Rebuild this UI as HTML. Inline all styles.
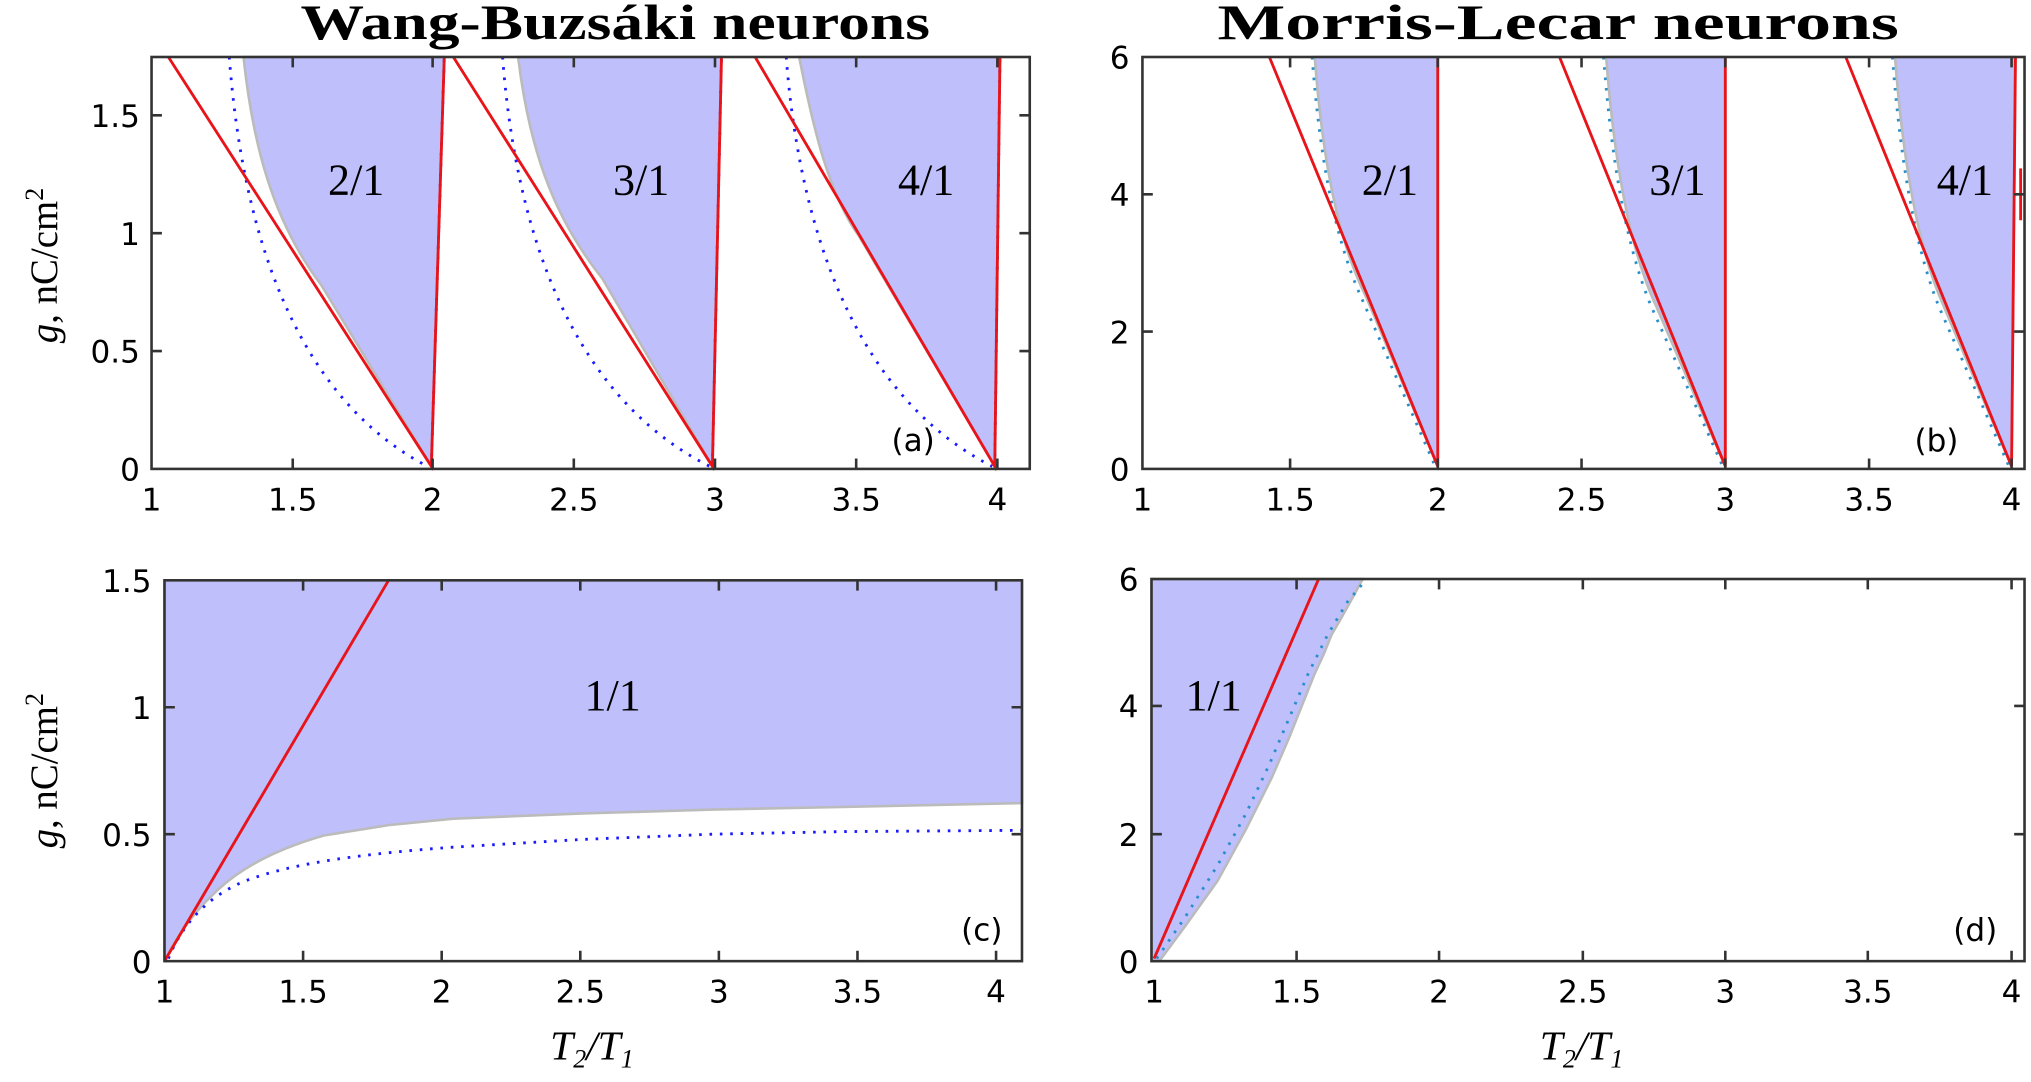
<!DOCTYPE html>
<html><head><meta charset="utf-8"><style>
html,body{margin:0;padding:0;background:#fff;}
svg{display:block;}
.t{font-family:"DejaVu Sans","Liberation Sans",sans-serif;font-size:24px;fill:#000;}
.s{font-family:"Liberation Serif",serif;font-size:34px;fill:#000;}
.ax{fill:none;stroke:#333;stroke-width:2;}
.sh{fill:#bfbffb;stroke:#bbb;stroke-width:2;}
.r{fill:none;stroke:#e8141a;stroke-width:2.2;}
.d{fill:none;stroke:#1a1aff;stroke-width:2.2;stroke-dasharray:2 6;}
.dt{fill:none;stroke:#2a8fc8;stroke-width:2.2;stroke-dasharray:2 6;}
</style></head><body>
<svg width="2031" height="1082" viewBox="0 0 1568 835.3" preserveAspectRatio="none" xmlns="http://www.w3.org/2000/svg">
<text x="232" y="30" textLength="486" lengthAdjust="spacingAndGlyphs" font-family="Liberation Serif,serif" font-weight="bold" font-size="38">Wang-Buzsáki neurons</text>
<text x="940" y="30" textLength="526" lengthAdjust="spacingAndGlyphs" font-family="Liberation Serif,serif" font-weight="bold" font-size="38">Morris-Lecar neurons</text>

<!-- (a) -->
<g>
<path class="sh" d="M188,44 C195,110 210,170 248,220 L333,360 L343,44 Z"/>
<path class="sh" d="M400,44 C408,110 425,165 465,215 L550,360 L557,44 Z"/>
<path class="sh" d="M617,44 C628,100 640,150 663,182 L768,360 L772,44 Z"/>
<path class="d" d="M177,44 C185,150 215,300 330,360"/>
<path class="d" d="M388,44 C396,150 428,300 548,360"/>
<path class="d" d="M607,44 C615,150 648,300 766,360"/>
<path class="d" d="M333,360 L343,44 M550,360 L557,44 M768,360 L772,44"/>
<path class="r" d="M130,44 L333,360 L343,44 M350,44 L550,360 L557,44 M583,44 L768,360 L772,44"/>
<rect class="ax" x="117" y="44" width="678" height="318"/>
<path class="ax" d="M226,362v-8M334,362v-8M443,362v-8M552,362v-8M661,362v-8M770,362v-8M226,44v8M334,44v8M443,44v8M552,44v8M661,44v8M770,44v8M117,271h8M117,180h8M117,89h8M795,271h-8M795,180h-8M795,89h-8"/>
<text class="t" x="117" y="394" text-anchor="middle">1</text><text class="t" x="226" y="394" text-anchor="middle">1.5</text><text class="t" x="334" y="394" text-anchor="middle">2</text><text class="t" x="443" y="394" text-anchor="middle">2.5</text><text class="t" x="552" y="394" text-anchor="middle">3</text><text class="t" x="661" y="394" text-anchor="middle">3.5</text><text class="t" x="770" y="394" text-anchor="middle">4</text>
<text class="t" x="108" y="371" text-anchor="end">0</text><text class="t" x="108" y="280" text-anchor="end">0.5</text><text class="t" x="108" y="189" text-anchor="end">1</text><text class="t" x="108" y="98" text-anchor="end">1.5</text>
<text class="s" x="275" y="150" text-anchor="middle">2/1</text><text class="s" x="495" y="150" text-anchor="middle">3/1</text><text class="s" x="715" y="150" text-anchor="middle">4/1</text>
<text class="t" x="705" y="348" text-anchor="middle" font-size="28">(a)</text>
<text transform="translate(44,205) rotate(-90)" text-anchor="middle" font-family="Liberation Serif,serif" font-size="30"><tspan font-style="italic">g</tspan>, nC/cm<tspan dy="-11" font-size="20">2</tspan></text>
</g>

<!-- (b) -->
<g>
<path class="sh" d="M1015,44 C1020,110 1030,180 1055,230 L1110,360 L1110,44 Z"/>
<path class="sh" d="M1240,44 C1245,110 1255,185 1278,235 L1332,360 L1332,44 Z"/>
<path class="sh" d="M1463,44 C1468,110 1478,185 1500,235 L1553,360 L1556,44 Z"/>
<path class="dt" d="M1013,44 C1018,110 1028,180 1052,232 L1108,360"/>
<path class="dt" d="M1238,44 C1243,110 1253,185 1275,237 L1330,360"/>
<path class="dt" d="M1461,44 C1466,110 1476,185 1497,237 L1551,360"/>
<path class="r" d="M980,44 L1110,360 L1110,44 M1204,44 L1332,360 L1332,44 M1425,44 L1553,360 L1556,44 M1560,130 V170"/>
<rect class="ax" x="882" y="44" width="681" height="318"/>
<path class="ax" d="M996,362v-8M1110,362v-8M1221,362v-8M1332,362v-8M1443,362v-8M1553,362v-8M996,44v8M1110,44v8M1221,44v8M1332,44v8M1443,44v8M1553,44v8M882,256h8M882,150h8M1563,256h-8M1563,150h-8"/>
<text class="t" x="882" y="394" text-anchor="middle">1</text><text class="t" x="996" y="394" text-anchor="middle">1.5</text><text class="t" x="1110" y="394" text-anchor="middle">2</text><text class="t" x="1221" y="394" text-anchor="middle">2.5</text><text class="t" x="1332" y="394" text-anchor="middle">3</text><text class="t" x="1443" y="394" text-anchor="middle">3.5</text><text class="t" x="1553" y="394" text-anchor="middle">4</text>
<text class="t" x="872" y="371" text-anchor="end">0</text><text class="t" x="872" y="265" text-anchor="end">2</text><text class="t" x="872" y="159" text-anchor="end">4</text><text class="t" x="872" y="53" text-anchor="end">6</text>
<text class="s" x="1073" y="150" text-anchor="middle">2/1</text><text class="s" x="1295" y="150" text-anchor="middle">3/1</text><text class="s" x="1517" y="150" text-anchor="middle">4/1</text>
<text class="t" x="1495" y="348" text-anchor="middle" font-size="28">(b)</text>
</g>

<!-- (c) -->
<g>
<path class="sh" d="M127,448 L789,448 L789,620 L650,623 L550,625 L450,628 L350,632 L300,637 L250,645 C215,655 185,670 165,690 C148,706 135,725 127,742 Z"/>
<path class="d" d="M130,740 C140,715 160,690 195,678 C230,666 280,659 350,654 L450,648 L550,644 L650,642 L789,641"/>
<path class="r" d="M127,742 L300,448"/>
<rect class="ax" x="127" y="448" width="662" height="294"/>
<path class="ax" d="M234,742v-8M341,742v-8M448,742v-8M555,742v-8M662,742v-8M769,742v-8M234,448v8M341,448v8M448,448v8M555,448v8M662,448v8M769,448v8M127,644h8M127,546h8M789,644h-8M789,546h-8"/>
<text class="t" x="127" y="774" text-anchor="middle">1</text><text class="t" x="234" y="774" text-anchor="middle">1.5</text><text class="t" x="341" y="774" text-anchor="middle">2</text><text class="t" x="448" y="774" text-anchor="middle">2.5</text><text class="t" x="555" y="774" text-anchor="middle">3</text><text class="t" x="662" y="774" text-anchor="middle">3.5</text><text class="t" x="769" y="774" text-anchor="middle">4</text>
<text class="t" x="117" y="751" text-anchor="end">0</text><text class="t" x="117" y="653" text-anchor="end">0.5</text><text class="t" x="117" y="555" text-anchor="end">1</text><text class="t" x="117" y="457" text-anchor="end">1.5</text>
<text class="s" x="473" y="548" text-anchor="middle">1/1</text>
<text class="t" x="758" y="726" text-anchor="middle" font-size="28">(c)</text>
<text transform="translate(44,595) rotate(-90)" text-anchor="middle" font-family="Liberation Serif,serif" font-size="30"><tspan font-style="italic">g</tspan>, nC/cm<tspan dy="-11" font-size="20">2</tspan></text>
<text x="457" y="818" text-anchor="middle" font-family="Liberation Serif,serif" font-size="32" font-style="italic">T<tspan font-size="20" dy="6">2</tspan><tspan dy="-6">/T</tspan><tspan font-size="20" dy="6">1</tspan></text>
</g>

<!-- (d) -->
<g>
<path class="sh" d="M889,447 L1052,447 L1045,460 L1035,478 L1028,490 L1022,505 L1015,520 L1005,545 L995,570 L982,600 L962,640 L940,680 L915,715 L895,742 L889,742 Z"/>
<path class="dt" d="M893,740 L915,708 L940,668 L962,628 L980,590 L995,555 L1010,520 L1025,490 L1040,465 L1055,447"/>
<path class="r" d="M891,740 L1018,447"/>
<rect class="ax" x="889" y="447" width="674" height="295"/>
<path class="ax" d="M1001,742v-8M1111,742v-8M1222,742v-8M1332,742v-8M1442,742v-8M1553,742v-8M1001,447v8M1111,447v8M1222,447v8M1332,447v8M1442,447v8M1553,447v8M889,644h8M889,545h8M1563,644h-8M1563,545h-8"/>
<text class="t" x="891" y="774" text-anchor="middle">1</text><text class="t" x="1001" y="774" text-anchor="middle">1.5</text><text class="t" x="1111" y="774" text-anchor="middle">2</text><text class="t" x="1222" y="774" text-anchor="middle">2.5</text><text class="t" x="1332" y="774" text-anchor="middle">3</text><text class="t" x="1442" y="774" text-anchor="middle">3.5</text><text class="t" x="1553" y="774" text-anchor="middle">4</text>
<text class="t" x="879" y="751" text-anchor="end">0</text><text class="t" x="879" y="653" text-anchor="end">2</text><text class="t" x="879" y="554" text-anchor="end">4</text><text class="t" x="879" y="456" text-anchor="end">6</text>
<text class="s" x="937" y="548" text-anchor="middle">1/1</text>
<text class="t" x="1525" y="726" text-anchor="middle" font-size="28">(d)</text>
<text x="1221" y="818" text-anchor="middle" font-family="Liberation Serif,serif" font-size="32" font-style="italic">T<tspan font-size="20" dy="6">2</tspan><tspan dy="-6">/T</tspan><tspan font-size="20" dy="6">1</tspan></text>
</g>
</svg>
</body></html>
